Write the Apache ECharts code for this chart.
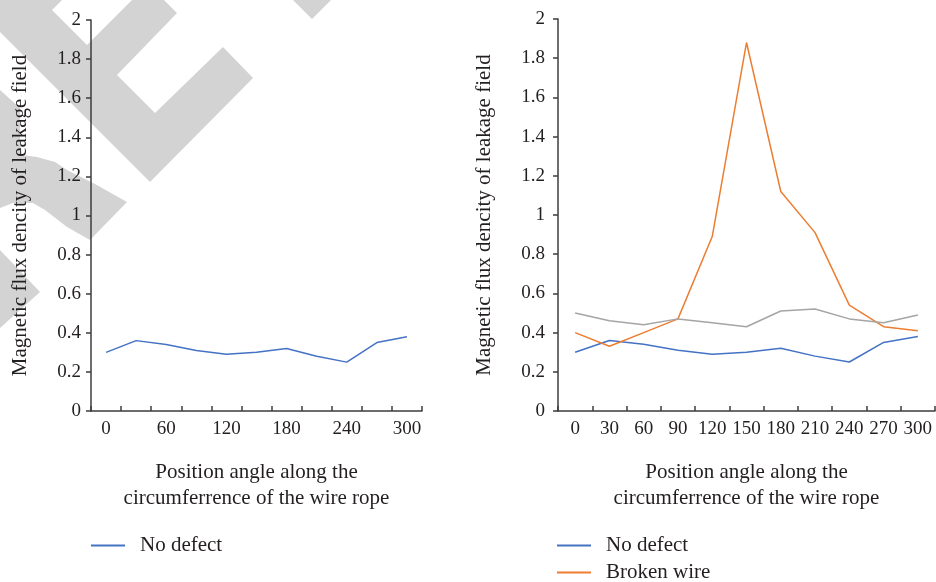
<!DOCTYPE html>
<html>
<head>
<meta charset="utf-8">
<script src="https://cdn.jsdelivr.net/npm/echarts@6/dist/echarts.min.js"></script>
<style>
  html, body { margin: 0; padding: 0; background: #fff; }
  #chart { width: 936px; height: 582px; }
</style>
</head>
<body>
<div id="chart"></div>
<script>
// angle categories (degrees)
const angles = ['0', '30', '60', '90', '120', '150', '180', '210', '240', '270', '300'];
// magnetic flux density values
const noDefect = [0.30, 0.36, 0.34, 0.31, 0.29, 0.30, 0.32, 0.28, 0.25, 0.35, 0.38];
const brokenWire = [0.40, 0.33, 0.40, 0.47, 0.89, 1.88, 1.12, 0.91, 0.54, 0.43, 0.41];
const thirdCase = [0.50, 0.46, 0.44, 0.47, 0.45, 0.43, 0.51, 0.52, 0.47, 0.45, 0.49];

const textColor = '#231f20';
const axisColor = '#3c3c3c';
const font = '"Liberation Serif", "DejaVu Serif", serif';
const yName = 'Magnetic flux dencity of leakage field';
const xName = 'Position angle along the\ncircumferrence of the wire rope';

const myChart = echarts.init(document.getElementById('chart'));

function makeX(gridIndex, labelInterval) {
  return {
    type: 'category',
    gridIndex: gridIndex,
    data: angles,
    boundaryGap: true,
    name: xName,
    nameLocation: 'middle',
    nameGap: 48,
    nameTextStyle: { color: textColor, fontFamily: font, fontSize: 21, lineHeight: 26 },
    axisLine: { show: true, lineStyle: { color: axisColor, width: 1.5 } },
    axisTick: { show: true, inside: true, length: 5, interval: 0, lineStyle: { color: axisColor, width: 1.5 } },
    axisLabel: { interval: labelInterval, color: textColor, fontFamily: font, fontSize: 19, margin: 9 },
    splitLine: { show: false }
  };
}

function makeY(gridIndex, gap, labelMargin) {
  return {
    type: 'value',
    gridIndex: gridIndex,
    min: 0,
    max: 2,
    interval: 0.2,
    name: yName,
    nameLocation: 'middle',
    nameGap: gap,
    nameTextStyle: { color: textColor, fontFamily: font, fontSize: 21 },
    axisLine: { show: true, lineStyle: { color: axisColor, width: 1.5 } },
    axisTick: { show: true, length: 5, lineStyle: { color: axisColor, width: 1.5 } },
    axisLabel: { color: textColor, fontFamily: font, fontSize: 19, margin: labelMargin },
    splitLine: { show: false }
  };
}

function line(name, data, color, idx) {
  return {
    name: name,
    type: 'line',
    xAxisIndex: idx,
    yAxisIndex: idx,
    data: data,
    showSymbol: false,
    symbol: 'none',
    lineStyle: { width: 1.5, color: color },
    itemStyle: { color: color },
    z: 3
  };
}

function legendAt(names, left, top) {
  return {
    data: names,
    left: left,
    top: top,
    padding: 0,
    icon: 'rect',
    itemWidth: 34,
    itemHeight: 2,
    textStyle: { color: textColor, fontFamily: font, fontSize: 21, padding: [0, 0, 0, 10] }
  };
}

// grey watermark shapes in the background
const wm = '#d3d3d3';
const watermark = [
  [[0, 0], [62, 0], [52, 10], [87, 45], [132, 0], [164, 0], [177, 13], [117, 75], [155, 113], [223, 47], [253, 78], [150, 182], [0, 32]],
  [[0, 90], [20, 108], [20, 140], [22, 155], [37, 157], [55, 162], [67, 170], [95, 184], [127, 202], [90, 240], [67, 227], [45, 210], [33, 203], [13, 203], [0, 208]],
  [[0, 250], [40, 292], [0, 328]],
  [[293, 0], [331, 0], [312, 19]]
].map(function (pts) {
  return { type: 'polygon', z: -10, silent: true, shape: { points: pts }, style: { fill: wm } };
});

const option = {
  backgroundColor: '#ffffff',
  animation: false,
  textStyle: { fontFamily: font },
  graphic: watermark,
  grid: [
    { left: 91, right: 514, top: 20, bottom: 171 },
    { left: 558, right: 1, top: 19, bottom: 171 }
  ],
  legend: [
    legendAt(['No defect'], 91, 535),
    legendAt(['No defect'], 557, 535),
    legendAt(['Broken wire'], 557, 562)
  ],
  xAxis: [makeX(0, 1), makeX(1, 0)],
  yAxis: [makeY(0, 60, 10), makeY(1, 63, 13)],
  series: [
    line('No defect', noDefect, '#4472c4', 0),
    line('No defect', noDefect, '#4472c4', 1),
    line('Broken wire', brokenWire, '#ed7d31', 1),
    line('Other', thirdCase, '#a5a5a5', 1)
  ]
};

option && myChart.setOption(option);
</script>
</body>
</html>
